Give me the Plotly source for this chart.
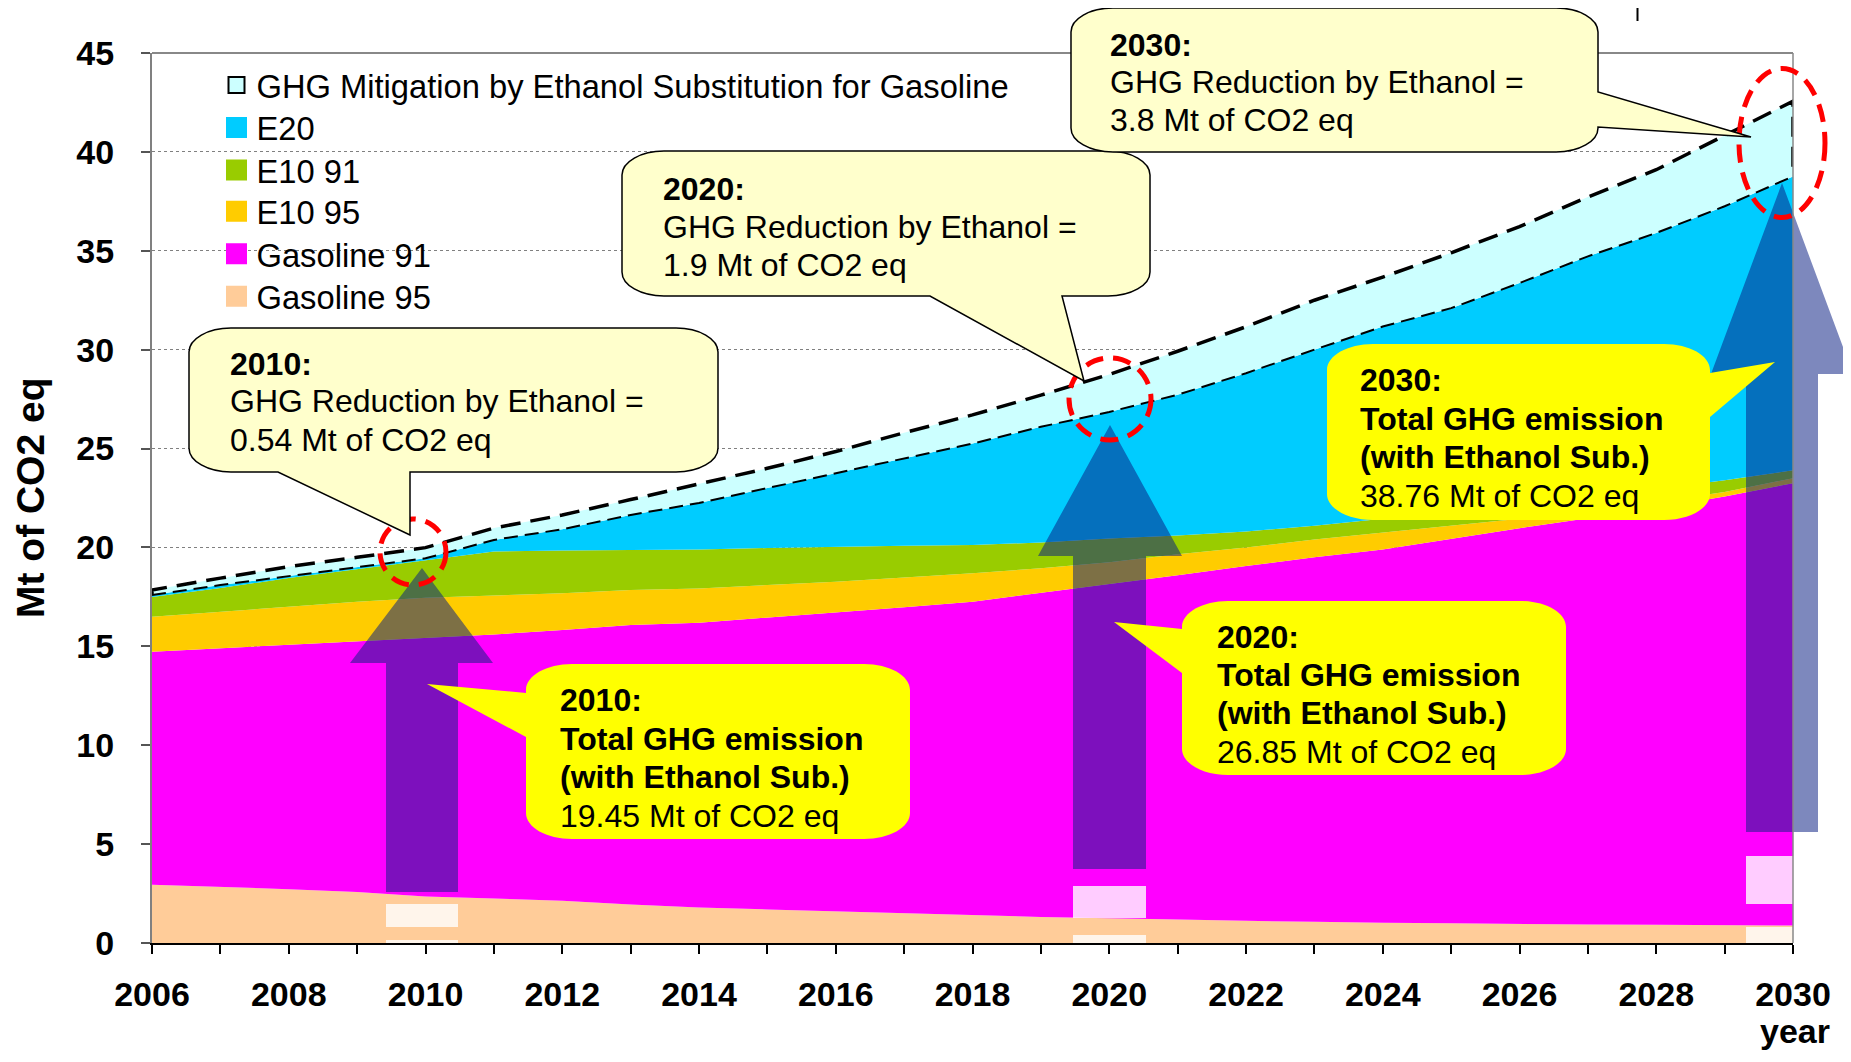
import numpy as np
import plotly.graph_objects as go

# ---------------- data (Mt of CO2 eq) ----------------
years = list(range(2006, 2031))
gasoline95 = [2.95, 2.85, 2.72, 2.58, 2.35, 2.25, 2.13, 1.95, 1.80, 1.70, 1.60, 1.50, 1.40,
              1.32, 1.25, 1.18, 1.12, 1.08, 1.02, 1.00, 0.95, 0.93, 0.92, 0.90, 0.88]
gasoline91 = [11.78, 12.05, 12.34, 12.65, 13.05, 13.35, 13.69, 14.13, 14.39, 14.75, 15.10, 15.48, 15.86,
              16.38, 16.90, 17.42, 17.94, 18.42, 18.88, 19.45, 20.02, 20.54, 21.06, 21.67, 22.37]
e10_95 = [1.77, 1.85, 1.94, 2.02, 2.06, 1.98, 1.86, 1.77, 1.74, 1.65, 1.57, 1.50, 1.43,
          1.25, 1.10, 1.05, 0.94, 0.90, 0.85, 0.65, 0.48, 0.38, 0.32, 0.23, 0.25]
e10_91 = [1.00, 1.20, 1.45, 1.65, 1.92, 2.22, 2.16, 2.02, 1.97, 1.87, 1.77, 1.60, 1.43,
          1.30, 1.20, 0.95, 0.80, 0.70, 0.70, 0.70, 0.70, 0.70, 0.65, 0.60, 0.40]
e20 = [0.10, 0.15, 0.10, 0.10, 0.07, 0.58, 1.08, 1.77, 2.35, 3.03, 3.71, 4.42, 5.13,
       5.85, 6.40, 7.12, 8.01, 8.90, 9.72, 10.30, 11.22, 12.17, 12.95, 13.85, 14.86]
mitigation = [0.25, 0.35, 0.48, 0.50, 0.54, 0.60, 0.72, 0.78, 0.95, 1.00, 1.10, 1.30, 1.45,
              1.60, 1.90, 2.20, 2.35, 2.50, 2.50, 2.80, 2.85, 3.00, 3.20, 3.60, 3.80]

series_names = ["Gasoline 95", "Gasoline 91", "E10 95", "E10 91", "E20",
                "GHG Mitigation by Ethanol Substitution for Gasoline"]
x_tick_labels = list(range(2006, 2031, 2))
y_tick_values = list(range(0, 46, 5))

# ---------------- styling ----------------
FONT = "Liberation Sans, Arial, sans-serif"
colors = {"Gasoline 95": "#FFCC99", "Gasoline 91": "#FF00FF", "E10 95": "#FFCC00",
          "E10 91": "#99CC00", "E20": "#00CCFF",
          "GHG Mitigation by Ethanol Substitution for Gasoline": "#CCFFFF"}

# page coordinates (window 1851x1062; the page body has an 8px margin)
W, H = 1851, 1062
BODY = 8
X0, X1 = 152, 1793   # plot area left/right in page pixels
Y0, Y1 = 53, 943     # plot area top/bottom in page pixels
FW, FH = W - 2 * BODY, H - 2 * BODY
ML, MT = X0 - BODY, Y0 - BODY
MR, MB = FW - (X1 - BODY), FH - (Y1 - BODY)


def px(x):
    return (x - X0) / (X1 - X0)


def py(y):
    return (Y1 - y) / (Y1 - Y0)


fig = go.Figure()

values = [gasoline95, gasoline91, e10_95, e10_91, e20, mitigation]
for name, vals in zip(series_names, values):
    c = colors[name]
    fig.add_trace(go.Scatter(x=years, y=vals, stackgroup="s", mode="lines",
                             line=dict(width=0, color=c), fillcolor=c,
                             name=name, showlegend=False, hoverinfo="skip"))

lower = np.sum(np.array(values[:5]), axis=0)
upper = lower + np.array(mitigation)

fig.add_trace(go.Scatter(x=years, y=lower, mode="lines", showlegend=False, hoverinfo="skip",
                         line=dict(color="black", width=2, dash="14px,7px")))
fig.add_trace(go.Scatter(x=[years[0]] + years + [years[-1]],
                         y=[lower[0]] + list(upper) + [lower[-1]],
                         mode="lines", showlegend=False, hoverinfo="skip",
                         line=dict(color="black", width=3.5, dash="20px,10px")))

# legend entries (top to bottom), one legend box per entry so the row spacing matches
legend_rows = [85.2, 127.7, 170.2, 211.5, 254.0, 296.5]
legend_layout = {}
for i, name in enumerate(reversed(series_names)):
    c = colors[name]
    if name.startswith("GHG"):
        mk = dict(symbol="square", size=16, color=c, line=dict(color="black", width=2))
    else:
        mk = dict(symbol="square", size=16, color=c, line=dict(color=c, width=5))
    lg = "legend" if i == 0 else f"legend{i + 1}"
    fig.add_trace(go.Scatter(x=[None], y=[None], mode="markers", marker=mk, name=name, legend=lg))
    legend_layout[lg] = dict(x=px(216.5), y=py(legend_rows[i]), xanchor="left", yanchor="middle",
                             font=dict(family=FONT, size=32.7, color="black"),
                             bgcolor="rgba(0,0,0,0)", borderwidth=0)

shapes = []
annotations = []


def poly(points, fill):
    d = "M " + " L ".join(f"{px(x):.5f},{py(y):.5f}" for x, y in points) + " Z"
    shapes.append(dict(type="path", xref="paper", yref="paper", path=d,
                       fillcolor=fill, line=dict(width=0, color=fill), layer="above"))


def rect(x0, y0, x1, y1, fill):
    shapes.append(dict(type="rect", xref="paper", yref="paper", x0=px(x0), x1=px(x1),
                       y0=py(y1), y1=py(y0), fillcolor=fill, line=dict(width=0), layer="above"))


def ellipse(cx, cy, rx, ry):
    shapes.append(dict(type="circle", xref="paper", yref="paper", x0=px(cx - rx), x1=px(cx + rx),
                       y0=py(cy + ry), y1=py(cy - ry), fillcolor="rgba(0,0,0,0)",
                       line=dict(color="#FF0000", width=5, dash="18px,10px"), layer="above"))


def callout(x0, y0, x1, y1, rx, ry, side, a, b, tip, fill, line_w):
    k = 0.5523
    P = lambda x, y: f"{px(x):.5f},{py(y):.5f}"
    d = f"M {P(x0 + rx, y0)} L {P(x1 - rx, y0)} "
    d += f"C {P(x1 - rx + k * rx, y0)} {P(x1, y0 + ry - k * ry)} {P(x1, y0 + ry)} "
    if side == "right":
        d += f"L {P(x1, a)} L {P(*tip)} L {P(x1, b)} "
    d += f"L {P(x1, y1 - ry)} C {P(x1, y1 - ry + k * ry)} {P(x1 - rx + k * rx, y1)} {P(x1 - rx, y1)} "
    if side == "bottom":
        d += f"L {P(b, y1)} L {P(*tip)} L {P(a, y1)} "
    d += f"L {P(x0 + rx, y1)} C {P(x0 + rx - k * rx, y1)} {P(x0, y1 - ry + k * ry)} {P(x0, y1 - ry)} "
    if side == "left":
        d += f"L {P(x0, b)} L {P(*tip)} L {P(x0, a)} "
    d += f"L {P(x0, y0 + ry)} C {P(x0, y0 + ry - k * ry)} {P(x0 + rx - k * rx, y0)} {P(x0 + rx, y0)} Z"
    shapes.append(dict(type="path", xref="paper", yref="paper", path=d, fillcolor=fill,
                       line=dict(width=line_w, color="black" if line_w else fill), layer="above"))


def text_lines(x, ys, lines):
    for y, (t, bold) in zip(ys, lines):
        annotations.append(dict(xref="paper", yref="paper", x=px(x), y=py(y), xanchor="left",
                                yanchor="middle", showarrow=False,
                                text=f"<b>{t}</b>" if bold else t,
                                font=dict(family=FONT, size=32, color="black")))


ARROW = "rgba(10,30,130,0.53)"
# arrows: (shaft x0, shaft x1, bottom, head base y, head x0, head x1, tip x, tip y)
for sx0, sx1, sb, hb, hx0, hx1, tx, ty in [(386, 458, 892, 663, 350, 493, 422, 568),
                                             (1073, 1146, 869, 556, 1038, 1182, 1110, 425),
                                             (1746, 1818, 832, 374, 1711, 1853, 1782, 183)]:
    poly([(sx0, sb), (sx0, hb), (hx0, hb), (tx, ty), (hx1, hb), (sx1, hb), (sx1, sb)], ARROW)

WH = "rgba(255,255,255,0.8)"
for x0, x1, ya, yb, yc in [(386, 458, 904, 927, 940), (1073, 1146, 886, 918, 935), (1746, 1793, 856, 904, 927)]:
    rect(x0, ya, x1, yb, WH)
    rect(x0, yc, x1, 943, WH)

# plot border (top / right)
shapes.append(dict(type="line", xref="paper", yref="paper", x0=0, x1=1, y0=1, y1=1,
                   line=dict(color="#888888", width=2), layer="above"))
shapes.append(dict(type="line", xref="paper", yref="paper", x0=1, x1=1, y0=0, y1=1,
                   line=dict(color="#888888", width=1.5), layer="above"))

ellipse(413, 552, 33, 33)
ellipse(1110, 399, 41, 41)
ellipse(1782, 143, 43, 74.5)

LY = "#FFFFCC"
YE = "#FFFF00"
callout(189, 328, 718, 472, 42, 24, "bottom", 278, 410, (410, 535), LY, 1.5)
callout(622, 151, 1150, 296, 42, 24, "bottom", 930, 1062, (1084, 381), LY, 1.5)
callout(1071, 8, 1598, 152, 42, 24, "right", 92, 127, (1751, 137), LY, 1.5)
callout(526, 664, 910, 839, 46, 26, "left", 693, 737, (427, 684), YE, 0)
callout(1182, 601, 1566, 775, 46, 26, "left", 629, 673, (1114, 622), YE, 0)
callout(1327, 344, 1710, 520, 46, 26, "right", 373, 417, (1775, 362), YE, 0)

shapes.append(dict(type="line", xref="paper", yref="paper", x0=px(1637.5), x1=px(1637.5),
                   y0=py(0), y1=py(21), line=dict(color="black", width=2), layer="above"))

text_lines(228, [364, 401.5, 440], [("2010:", True), ("GHG Reduction by Ethanol =", False),
                                     ("0.54 Mt of CO2 eq", False)])
text_lines(661, [188.5, 226.7, 264.7], [("2020:", True), ("GHG Reduction by Ethanol =", False),
                                        ("1.9 Mt of CO2 eq", False)])
text_lines(1108, [45, 82, 120], [("2030:", True), ("GHG Reduction by Ethanol =", False),
                                 ("3.8 Mt of CO2 eq", False)])
text_lines(558, [700, 738.5, 777, 815.5], [("2010:", True), ("Total GHG emission", True),
                                           ("(with Ethanol Sub.)", True), ("19.45 Mt of CO2 eq", False)])
text_lines(1215, [637, 675, 713, 752], [("2020:", True), ("Total GHG emission", True),
                                        ("(with Ethanol Sub.)", True), ("26.85 Mt of CO2 eq", False)])
text_lines(1358, [380, 418.5, 457, 495.5], [("2030:", True), ("Total GHG emission", True),
                                            ("(with Ethanol Sub.)", True), ("38.76 Mt of CO2 eq", False)])

annotations.append(dict(xref="paper", yref="paper", x=px(30), y=py(498), text="<b>Mt of CO2 eq</b>",
                        textangle=-90, showarrow=False, xanchor="center", yanchor="middle",
                        font=dict(family=FONT, size=39, color="black")))
annotations.append(dict(xref="paper", yref="paper", x=px(1795), y=py(1031), text="<b>year</b>",
                        showarrow=False, xanchor="center", yanchor="middle",
                        font=dict(family=FONT, size=34, color="black")))

fig.update_layout(
    width=FW, height=FH,
    margin=dict(l=ML, r=MR, t=MT, b=MB, pad=0),
    paper_bgcolor="white", plot_bgcolor="white",
    font=dict(family=FONT, color="black"),
    showlegend=True,
    xaxis=dict(range=[2006, 2030], tickmode="array", tickvals=x_tick_labels,
               ticks="outside", ticklen=9, tickwidth=1.5, tickcolor="black",
               showline=True, linecolor="black", linewidth=2, showgrid=False, zeroline=False,
               tickfont=dict(family=FONT, size=34, color="black", weight="bold"),
               ticklabelstandoff=11,
               minor=dict(tickmode="linear", tick0=2006, dtick=1, ticks="outside", ticklen=9,
                          tickwidth=1.5, tickcolor="black", showgrid=False)),
    yaxis=dict(range=[0, 45], tickmode="array", tickvals=y_tick_values,
               ticks="outside", ticklen=9, tickwidth=1.5, tickcolor="#555555",
               showline=True, linecolor="#808080", linewidth=2, zeroline=False,
               showgrid=True, gridcolor="#808080", gridwidth=1, griddash="dot",
               tickfont=dict(family=FONT, size=34, color="black", weight="bold"),
               ticklabelstandoff=20),
    shapes=shapes,
    annotations=annotations,
    **legend_layout,
)

fig.write_html("out.html")
